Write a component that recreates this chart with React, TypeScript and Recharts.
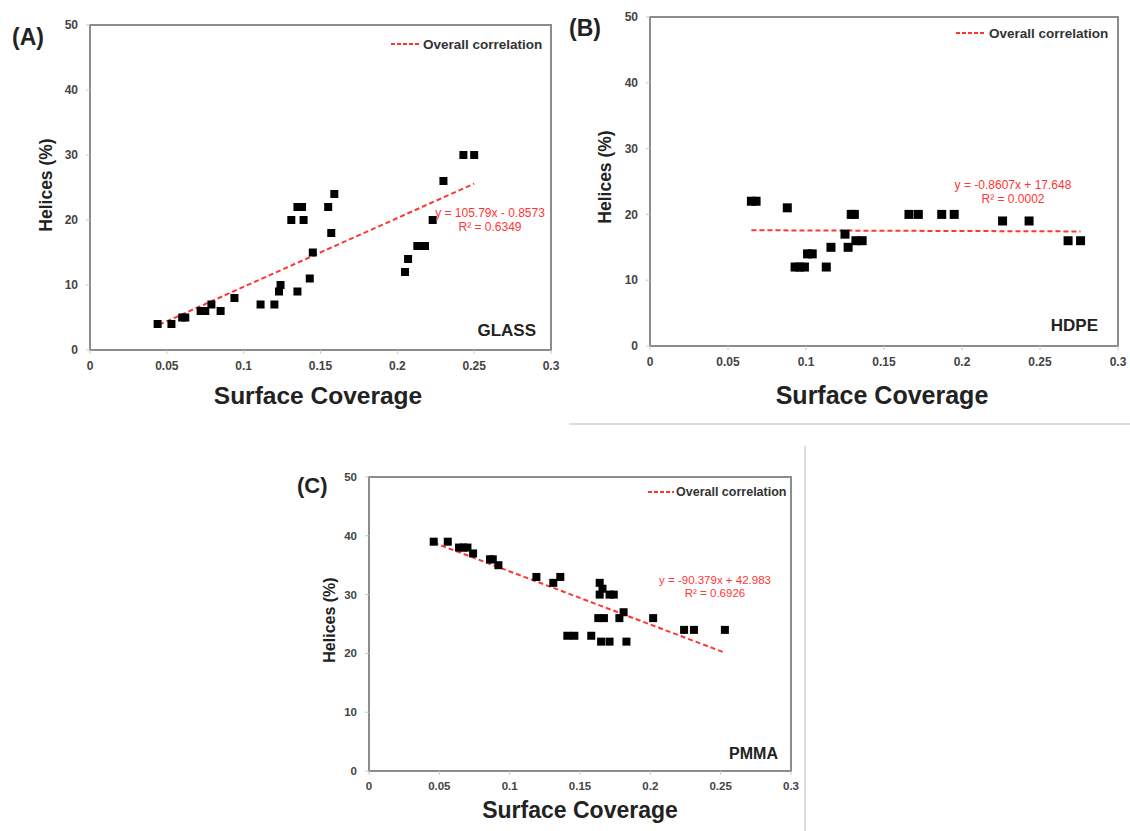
import React from "react";
import { ScatterChart, Scatter, XAxis, YAxis, ReferenceLine, ReferenceArea } from "recharts";

// ---- Data ----
const xTicks = [0, 0.05, 0.1, 0.15, 0.2, 0.25, 0.3];
const yTicks = [0, 10, 20, 30, 40, 50];

const glassX = [0.044, 0.053, 0.060, 0.062, 0.072, 0.075, 0.079, 0.085, 0.094, 0.111, 0.120, 0.123, 0.124, 0.131, 0.135, 0.138, 0.139, 0.135, 0.143, 0.145, 0.155, 0.157, 0.159, 0.205, 0.207, 0.213, 0.218, 0.223, 0.230, 0.243, 0.250];
const glassY = [4, 4, 5, 5, 6, 6, 7, 6, 8, 7, 7, 9, 10, 20, 22, 22, 20, 9, 11, 15, 22, 18, 24, 12, 14, 16, 16, 20, 26, 30, 30];
const glassFitX = [0.045, 0.25];
const glassFitY = [3.90, 25.59];

const hdpeX = [0.065, 0.068, 0.088, 0.093, 0.096, 0.099, 0.101, 0.104, 0.113, 0.116, 0.125, 0.127, 0.129, 0.131, 0.132, 0.136, 0.166, 0.172, 0.187, 0.195, 0.226, 0.243, 0.268, 0.276];
const hdpeY = [22, 22, 21, 12, 12, 12, 14, 14, 12, 15, 17, 15, 20, 20, 16, 16, 20, 20, 20, 20, 19, 19, 16, 16];
const hdpeFitX = [0.065, 0.276];
const hdpeFitY = [17.59, 17.41];

const pmmaX = [0.046, 0.056, 0.064, 0.067, 0.070, 0.074, 0.086, 0.088, 0.092, 0.119, 0.131, 0.136, 0.141, 0.146, 0.158, 0.164, 0.166, 0.164, 0.171, 0.174, 0.163, 0.167, 0.165, 0.171, 0.178, 0.181, 0.183, 0.202, 0.224, 0.231, 0.253];
const pmmaY = [39, 39, 38, 38, 38, 37, 36, 36, 35, 33, 32, 33, 23, 23, 23, 32, 31, 30, 30, 30, 26, 26, 22, 22, 26, 27, 22, 26, 24, 24, 24];
const pmmaFitX = [0.046, 0.253];
const pmmaFitY = [38.83, 20.12];

const zip = (xs: number[], ys: number[]) => xs.map((x, i) => ({ x, y: ys[i] }));

const FONT = "'Liberation Sans', Arial, Helvetica, sans-serif";
const RED = "#ff3535";

type PanelProps = {
  left: number; top: number; width: number; height: number;
  margin: { top: number; right: number; bottom: number; left: number };
  points: { x: number; y: number }[];
  fitX: number[]; fitY: number[];
  sq: number; tickFont: number;
};

const Panel = ({ left, top, width, height, margin, points, fitX, fitY, sq, tickFont }: PanelProps) => {
  const shape = (p: any) => (
    <rect x={p.cx - sq / 2} y={p.cy - sq / 2} width={sq} height={sq} fill="#000" />
  );
  const tickStyle = { fontSize: tickFont, fontWeight: 700, fill: "#444", fontFamily: FONT };
  return (
    <div style={{ position: "absolute", left, top, width, height }}>
      <ScatterChart width={width} height={height} margin={margin}>
        <XAxis type="number" dataKey="x" domain={[0, 0.3]} ticks={xTicks} axisLine={false}
          tickLine={{ stroke: "#c8c8c8" }} tickSize={4} tickMargin={7} height={30}
          tick={tickStyle} interval={0} allowDataOverflow />
        <YAxis type="number" dataKey="y" domain={[0, 50]} ticks={yTicks} axisLine={false}
          tickLine={{ stroke: "#c8c8c8" }} tickSize={4} tickMargin={8} width={60}
          tick={tickStyle} interval={0} allowDataOverflow />
        <ReferenceArea x1={0} x2={0.3} y1={0} y2={50} fill="none" stroke="#8c8c8c" strokeWidth={2} ifOverflow="visible" />
        <ReferenceLine segment={[{ x: fitX[0], y: fitY[0] }, { x: fitX[1], y: fitY[1] }]}
          stroke={RED} strokeWidth={2} strokeDasharray="5 3" ifOverflow="visible" />
        <Scatter data={points} shape={shape} isAnimationActive={false} />
      </ScatterChart>
    </div>
  );
};

const T = (props: any) => <text fontFamily={FONT} dominantBaseline="central" {...props} />;

export default function App() {
  return (
    <div style={{ position: "absolute", left: 0, top: 0, width: 1130, height: 831, background: "#fff", overflow: "hidden" }}>
      <Panel left={0} top={0} width={570} height={380}
        margin={{ top: 25, right: 19, bottom: 0, left: 30 }}
        points={zip(glassX, glassY)} fitX={glassFitX} fitY={glassFitY} sq={8} tickFont={12} />
      <Panel left={580} top={0} width={550} height={380}
        margin={{ top: 17, right: 12, bottom: 4, left: 10 }}
        points={zip(hdpeX, hdpeY)} fitX={hdpeFitX} fitY={hdpeFitY} sq={9} tickFont={12} />
      <Panel left={300} top={440} width={520} height={370}
        margin={{ top: 37, right: 29, bottom: 9, left: 9 }}
        points={zip(pmmaX, pmmaY)} fitX={pmmaFitX} fitY={pmmaFitY} sq={8} tickFont={11.5} />

      <svg width={1130} height={831} style={{ position: "absolute", left: 0, top: 0, pointerEvents: "none" }}>
        {/* separators */}
        <line x1={569} y1={424} x2={1130} y2={424} stroke="#dcdcdc" strokeWidth={2} />
        <line x1={805} y1={446} x2={805} y2={831} stroke="#dcdcdc" strokeWidth={2} />

        {/* Panel A */}
        <T x={12} y={37} fontSize={23} fontWeight={700} fill="#222">(A)</T>
        <line x1={391} y1={44} x2={419} y2={44} stroke={RED} strokeWidth={2} strokeDasharray="4 2" />
        <T x={423} y={44} fontSize={13.5} fontWeight={700} fill="#333">Overall correlation</T>
        <T x={490} y={213} fontSize={12} fill={RED} textAnchor="middle">y = 105.79x - 0.8573</T>
        <T x={490} y={227} fontSize={12} fill={RED} textAnchor="middle">R² = 0.6349</T>
        <T x={536} y={330} fontSize={17} fontWeight={700} fill="#222" textAnchor="end">GLASS</T>
        <T x={318} y={395} fontSize={24.5} fontWeight={700} fill="#222" textAnchor="middle">Surface Coverage</T>
        <T x={0} y={0} fontSize={17.5} fontWeight={700} fill="#222" textAnchor="middle" transform="translate(46,185) rotate(-90)">Helices (%)</T>

        {/* Panel B */}
        <T x={569} y={28} fontSize={23} fontWeight={700} fill="#222">(B)</T>
        <line x1={956} y1={33} x2={984} y2={33} stroke={RED} strokeWidth={2} strokeDasharray="4 2" />
        <T x={989} y={33} fontSize={13.5} fontWeight={700} fill="#333">Overall correlation</T>
        <T x={1013} y={185} fontSize={12} fill={RED} textAnchor="middle">y = -0.8607x + 17.648</T>
        <T x={1013} y={199} fontSize={12} fill={RED} textAnchor="middle">R² = 0.0002</T>
        <T x={1098} y={325} fontSize={17} fontWeight={700} fill="#222" textAnchor="end">HDPE</T>
        <T x={882} y={395} fontSize={25} fontWeight={700} fill="#222" textAnchor="middle">Surface Coverage</T>
        <T x={0} y={0} fontSize={17.5} fontWeight={700} fill="#222" textAnchor="middle" transform="translate(605,177) rotate(-90)">Helices (%)</T>

        {/* Panel C */}
        <T x={297} y={485} fontSize={22} fontWeight={700} fill="#222">(C)</T>
        <line x1={648} y1={492} x2={674} y2={492} stroke={RED} strokeWidth={2} strokeDasharray="4 2" />
        <T x={676} y={492} fontSize={12.5} fontWeight={700} fill="#333">Overall correlation</T>
        <T x={715} y={580} fontSize={11.5} fill={RED} textAnchor="middle">y = -90.379x + 42.983</T>
        <T x={715} y={593} fontSize={11.5} fill={RED} textAnchor="middle">R² = 0.6926</T>
        <T x={778} y={753} fontSize={16} fontWeight={700} fill="#222" textAnchor="end">PMMA</T>
        <T x={580} y={810} fontSize={23} fontWeight={700} fill="#222" textAnchor="middle">Surface Coverage</T>
        <T x={0} y={0} fontSize={16} fontWeight={700} fill="#222" textAnchor="middle" transform="translate(329,620) rotate(-90)">Helices (%)</T>
      </svg>
    </div>
  );
}
